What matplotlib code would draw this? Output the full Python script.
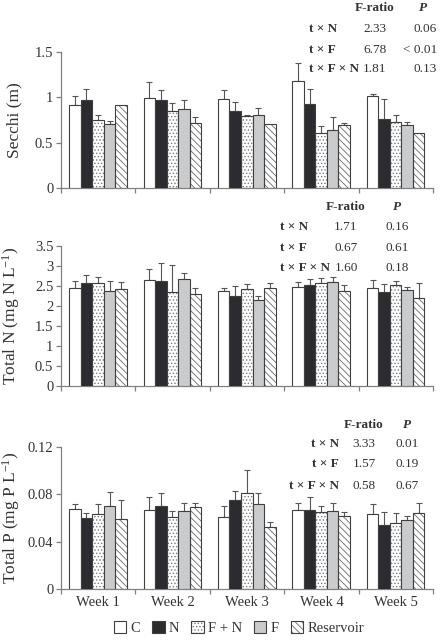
import matplotlib
matplotlib.use("Agg")
import matplotlib.pyplot as plt
import numpy as np
from matplotlib.patches import Patch
from matplotlib.ticker import FuncFormatter

plt.rcParams['font.family'] = ['Liberation Serif', 'DejaVu Serif']
plt.rcParams['mathtext.fontset'] = 'custom'
plt.rcParams['mathtext.rm'] = 'Liberation Serif'
plt.rcParams['mathtext.it'] = 'Liberation Serif:italic'
plt.rcParams['hatch.linewidth'] = 0.6

weeks = ["Week 1", "Week 2", "Week 3", "Week 4", "Week 5"]
treatments = ["C", "N", "F + N", "F", "Reservoir"]

# Secchi (m): values per treatment across weeks, and upper error
secchi_C = [0.91, 0.99, 0.98, 1.18, 1.01]
secchi_N = [0.97, 0.97, 0.85, 0.93, 0.76]
secchi_FN = [0.75, 0.85, 0.79, 0.61, 0.73]
secchi_F = [0.71, 0.87, 0.81, 0.64, 0.69]
secchi_R = [0.91, 0.72, 0.71, 0.69, 0.61]
secchi_C_err = [0.11, 0.18, 0.10, 0.20, 0.03]
secchi_N_err = [0.12, 0.11, 0.10, 0.16, 0.22]
secchi_FN_err = [0.06, 0.09, 0.02, 0.07, 0.07]
secchi_F_err = [0.03, 0.10, 0.07, 0.14, 0.04]
secchi_R_err = [0.0, 0.06, 0.0, 0.03, 0.0]

# Total N (mg N L-1)
tn_C = [2.44, 2.64, 2.36, 2.48, 2.45]
tn_N = [2.56, 2.61, 2.25, 2.51, 2.34]
tn_FN = [2.56, 2.34, 2.43, 2.58, 2.51]
tn_F = [2.38, 2.66, 2.15, 2.60, 2.39]
tn_R = [2.43, 2.30, 2.44, 2.37, 2.20]
tn_C_err = [0.19, 0.28, 0.08, 0.12, 0.20]
tn_N_err = [0.20, 0.47, 0.25, 0.15, 0.21]
tn_FN_err = [0.16, 0.69, 0.11, 0.12, 0.12]
tn_F_err = [0.24, 0.15, 0.10, 0.13, 0.07]
tn_R_err = [0.17, 0.15, 0.12, 0.14, 0.36]

# Total P (mg P L-1)
tp_C = [0.068, 0.067, 0.061, 0.067, 0.063]
tp_N = [0.060, 0.070, 0.075, 0.067, 0.054]
tp_FN = [0.063, 0.061, 0.081, 0.065, 0.056]
tp_F = [0.070, 0.066, 0.072, 0.066, 0.058]
tp_R = [0.059, 0.069, 0.052, 0.062, 0.064]
tp_C_err = [0.004, 0.011, 0.009, 0.006, 0.009]
tp_N_err = [0.004, 0.011, 0.008, 0.011, 0.011]
tp_FN_err = [0.009, 0.005, 0.020, 0.005, 0.008]
tp_F_err = [0.012, 0.007, 0.009, 0.007, 0.004]
tp_R_err = [0.016, 0.004, 0.005, 0.003, 0.009]

stat_rows = ["t × N", "t × F", "t × F × N"]
secchi_F_ratio = ["2.33", "6.78", "1.81"]
secchi_P = ["0.06", "< 0.01", "0.13"]
tn_F_ratio = ["1.71", "0.67", "1.60"]
tn_P = ["0.16", "0.61", "0.18"]
tp_F_ratio = ["3.33", "1.57", "0.58"]
tp_P = ["0.01", "0.19", "0.67"]

W, H = 440, 642
fig = plt.figure(figsize=(W / 100, H / 100), dpi=100)

TXT = '#333333'
SPINE = '#808080'
EDGE = '#404040'
ERRC = '#555555'

styles = [
    dict(fc='white', hatch=None, hc=None),
    dict(fc='#2b2b30', hatch=None, hc=None),
    dict(fc='white', hatch='.....', hc='#7a7a7a'),
    dict(fc='#c9cbcc', hatch=None, hc=None),
    dict(fc='white', hatch='\\\\\\\\\\', hc='#6a6a6a'),
]


def px_axes(top_px, bottom_px, left_px=61, right_px=433):
    return [left_px / W, 1 - bottom_px / H, (right_px - left_px) / W, (bottom_px - top_px) / H]


def draw_panel(ax, series, errs, ymax, yticks, ylabel):
    x = np.arange(len(weeks)) + 0.497
    bw = 0.155
    for i, (vals, err) in enumerate(zip(series, errs)):
        st = styles[i]
        pos = x + (i - 2) * bw
        if st['hatch']:
            ax.bar(pos, vals, bw, color=st['fc'], edgecolor=st['hc'], hatch=st['hatch'], linewidth=0, zorder=2)
            ax.bar(pos, vals, bw, fill=False, edgecolor=EDGE, linewidth=0.8, zorder=3)
        else:
            ax.bar(pos, vals, bw, color=st['fc'], edgecolor=EDGE, linewidth=0.8, zorder=3)
        e = np.array(err)
        mask = e > 0
        ax.errorbar(pos[mask], np.array(vals)[mask], yerr=[np.zeros(mask.sum()), e[mask]],
                    fmt='none', ecolor=ERRC, elinewidth=0.8, capsize=2.2, capthick=0.8, zorder=1)
    ax.set_xlim(0, 5)
    ax.set_ylim(0, ymax)
    ax.set_yticks(yticks)
    ax.yaxis.set_major_formatter(FuncFormatter(lambda v, p: '%g' % round(v, 4)))
    ax.set_xticks(np.arange(0, 6))
    ax.set_xticklabels([])
    for s in ['top', 'right']:
        ax.spines[s].set_visible(False)
    for s in ['left', 'bottom']:
        ax.spines[s].set_color(SPINE)
        ax.spines[s].set_linewidth(0.9)
    ax.tick_params(axis='both', direction='out', length=3.5, width=0.9, color=SPINE,
                   labelsize=10.5, labelcolor=TXT, pad=2)
    ax.set_ylabel(ylabel, fontsize=12.5, color=TXT)
    ax.yaxis.set_label_coords(-0.104, 0.5)


def stats_table(header_y, row_ys, fx, px_c, label_x, label_ha, fvals, pvals, p_ha='center', p_x=None):
    fs = 9.5
    fig.text(fx / W, 1 - header_y / H, "F-ratio", ha='center', va='center', fontsize=fs,
             fontweight='bold', color=TXT)
    fig.text(px_c / W, 1 - header_y / H, "P", ha='center', va='center', fontsize=fs,
             fontweight='bold', style='italic', color=TXT)
    for ry, lab, fv, pv in zip(row_ys, stat_rows, fvals, pvals):
        fig.text(label_x / W, 1 - ry / H, lab, ha=label_ha, va='center', fontsize=fs,
                 fontweight='bold', color=TXT)
        fig.text(fx / W, 1 - ry / H, fv, ha='center', va='center', fontsize=fs, color=TXT)
        xx = p_x if p_x is not None else px_c
        fig.text(xx / W, 1 - ry / H, pv, ha=p_ha, va='center', fontsize=fs, color=TXT)


ax1 = fig.add_axes(px_axes(52, 188))
draw_panel(ax1, [secchi_C, secchi_N, secchi_FN, secchi_F, secchi_R],
           [secchi_C_err, secchi_N_err, secchi_FN_err, secchi_F_err, secchi_R_err],
           1.5, [0, 0.5, 1, 1.5], "Secchi (m)")

ax2 = fig.add_axes(px_axes(245.7, 386))
draw_panel(ax2, [tn_C, tn_N, tn_FN, tn_F, tn_R],
           [tn_C_err, tn_N_err, tn_FN_err, tn_F_err, tn_R_err],
           3.5, [0, 0.5, 1, 1.5, 2, 2.5, 3, 3.5], r"Total N (mg N L$^{-1}$)")

ax3 = fig.add_axes(px_axes(447.3, 588.7))
draw_panel(ax3, [tp_C, tp_N, tp_FN, tp_F, tp_R],
           [tp_C_err, tp_N_err, tp_FN_err, tp_F_err, tp_R_err],
           0.12, [0, 0.04, 0.08, 0.12], r"Total P (mg P L$^{-1}$)")
ax3.set_xticks(np.arange(len(weeks)) + 0.5, minor=True)
ax3.set_xticklabels(weeks, minor=True)
ax3.tick_params(axis='x', which='minor', length=0, labelsize=10.5, labelcolor=TXT, pad=5)

stats_table(8, [29, 50, 69], 375, 423, 309, 'left', secchi_F_ratio, secchi_P, p_ha='right', p_x=437)
stats_table(207, [227, 248, 268], 346, 397, 280, 'left', tn_F_ratio, tn_P)
stats_table(425, [444, 464, 486], 364, 407, 339, 'right', tp_F_ratio, tp_P)

# legend
handles = []
for st in styles:
    if st['hatch']:
        h = (Patch(facecolor=st['fc'], edgecolor=st['hc'], hatch=st['hatch'], linewidth=0),
             Patch(fill=False, edgecolor=EDGE, linewidth=0.8))
    else:
        h = Patch(facecolor=st['fc'], edgecolor=EDGE, linewidth=0.8)
    handles.append(h)
leg = fig.legend(handles, treatments, loc='center', bbox_to_anchor=(239 / W, 1 - 628 / H),
                 ncol=5, frameon=False, fontsize=10.5, handlelength=0.85, handleheight=0.85,
                 handletextpad=0.3, columnspacing=0.8, borderaxespad=0)
for t in leg.get_texts():
    t.set_color(TXT)

fig.savefig("out.png", dpi=100)
